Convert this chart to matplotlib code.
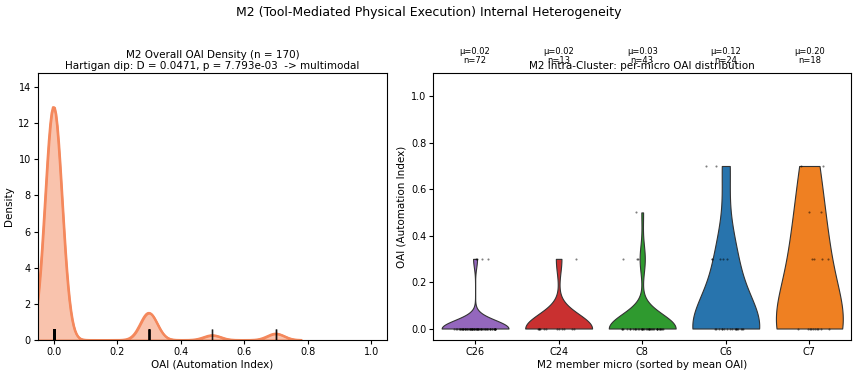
import numpy as np
import pandas as pd
import matplotlib
matplotlib.use("Agg")
import matplotlib.pyplot as plt
import seaborn as sns

levels = [0.0, 0.3, 0.5, 0.7]
clusters = ["C26", "C24", "C8", "C6", "C7"]
counts_c26 = [68, 4, 0, 0]
counts_c24 = [12, 1, 0, 0]
counts_c8 = [39, 3, 1, 0]
counts_c6 = [17, 5, 0, 2]
counts_c7 = [10, 4, 2, 2]
colors = ["#9467bd", "#c93030", "#2f9a2f", "#2874ad", "#ef8022"]

all_counts = [counts_c26, counts_c24, counts_c8, counts_c6, counts_c7]
rows = []
for name, cnt in zip(clusters, all_counts):
    for lv, c in zip(levels, cnt):
        rows += [(name, lv)] * c
df = pd.DataFrame(rows, columns=["micro", "oai"])

plt.rcParams["font.size"] = 7

fig = plt.figure(figsize=(8.58, 3.75), dpi=100)
ax1 = fig.add_axes([0.044, 0.093, 0.407, 0.712])
ax2 = fig.add_axes([0.505, 0.093, 0.487, 0.712])

# left: overall density
sns.kdeplot(x=df["oai"], bw_adjust=0.5, fill=True, color="#f4885c", alpha=0.5,
            linewidth=1.6, ax=ax1)
sns.kdeplot(x=df["oai"], bw_adjust=0.5, color="#f4885c", linewidth=1.6, ax=ax1)
sns.rugplot(x=df["oai"], color="black", height=0.04, lw=1.0, alpha=0.5, ax=ax1)
ax1.set_xlim(-0.05, 1.05)
ax1.set_ylim(0, 14.75)
ax1.set_xlabel("OAI (Automation Index)", fontsize=7.5, labelpad=2)
ax1.set_ylabel("Density", fontsize=7.5, labelpad=3)
ax1.set_title("M2 Overall OAI Density (n = 170)\n"
              "Hartigan dip: D = 0.0471, p = 7.793e-03  -> multimodal",
              fontsize=7.5, pad=3, linespacing=1.1)
ax1.tick_params(labelsize=7, length=3, pad=2)

# right: per-micro violins
pal = dict(zip(clusters, colors))
sns.violinplot(data=df, x="micro", y="oai", hue="micro", order=clusters,
               palette=pal, saturation=1, cut=0, inner=None, bw_adjust=1.25,
               density_norm="width", linewidth=0.8, linecolor="#333333",
               legend=False, ax=ax2)
sns.stripplot(data=df, x="micro", y="oai", order=clusters, color="black",
              size=1.5, alpha=0.5, jitter=0.25, ax=ax2)
ax2.set_ylim(-0.05, 1.1)
ax2.set_xlabel("M2 member micro (sorted by mean OAI)", fontsize=7.5, labelpad=2)
ax2.set_ylabel("OAI (Automation Index)", fontsize=7.5, labelpad=3)
ax2.set_title("M2 Intra-Cluster: per-micro OAI distribution", fontsize=7.5, pad=3)
ax2.tick_params(labelsize=7, length=3, pad=2)
for i, name in enumerate(clusters):
    vals = df.loc[df["micro"] == name, "oai"]
    ax2.text(i, 1.135, "\u03bc=%.2f\nn=%d" % (vals.mean(), len(vals)),
             ha="center", va="bottom", fontsize=6, linespacing=1.0,
             clip_on=False)

fig.suptitle("M2 (Tool-Mediated Physical Execution) Internal Heterogeneity",
             fontsize=9, y=0.985)
fig.savefig("out.png", dpi=100)
